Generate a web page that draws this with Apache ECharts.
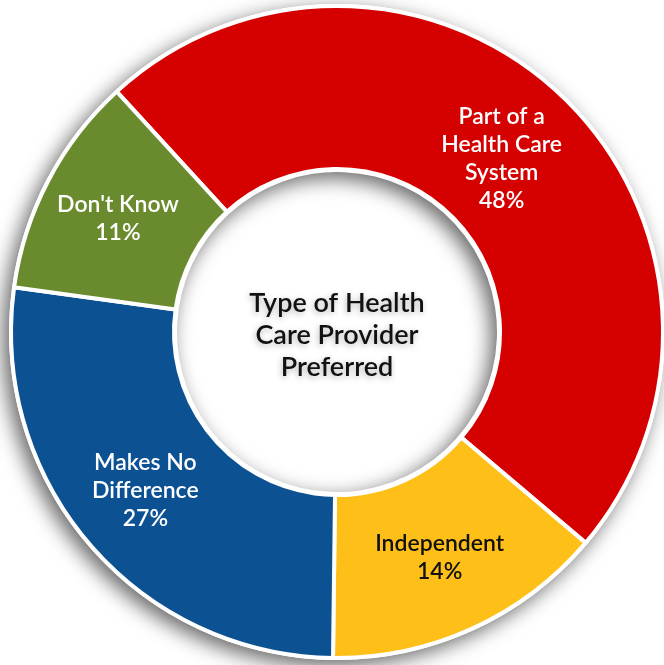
<!DOCTYPE html>
<html>
<head>
<meta charset="utf-8">
<script src="https://cdn.jsdelivr.net/npm/echarts@6/dist/echarts.min.js"></script>
<style>
html,body{margin:0;padding:0;background:#fff;}
#chart{width:664px;height:665px;}
</style>
</head>
<body>
<div id="chart"></div>
<script>
const categories = ["Part of a\nHealth Care\nSystem", "Independent", "Makes No\nDifference", "Don't Know"];
const values = [48, 14, 27, 11];
const colors = ["#d50000", "#fec018", "#0c5192", "#6a8b2d"];
const labelColors = ["#ffffff", "#111111", "#ffffff", "#ffffff"];
const centerTitle = "Type of Health\nCare Provider\nPreferred";

const chart = echarts.init(document.getElementById('chart'));
const center = [337, 332];
const fontFamily = "Lato, 'Noto Sans', sans-serif";
const labelOffsets = [[-7, 5], [0, 0], [-4, -3], [0, 2]];

chart.setOption({
  animation: false,
  backgroundColor: '#ffffff',
  graphic: [{
    type: 'text',
    x: center[0],
    y: center[1] + 3,
    z: 100,
    style: {
      text: centerTitle,
      fill: '#111111',
      font: '600 27px ' + fontFamily,
      lineHeight: 32,
      align: 'center',
      verticalAlign: 'middle',
      textShadowColor: 'rgba(0,0,0,0.3)',
      textShadowBlur: 6,
      textShadowOffsetX: -1,
      textShadowOffsetY: 2
    }
  }],
  series: [
    {
      type: 'pie',
      silent: true,
      z: 1,
      center: center,
      radius: [160, 328],
      startAngle: 132.5,
      label: { show: false },
      labelLine: { show: false },
      itemStyle: {
        color: '#ffffff',
        shadowColor: 'rgba(0,0,0,0.6)',
        shadowBlur: 20,
        shadowOffsetX: -6,
        shadowOffsetY: 6
      },
      data: [{ value: 1, name: 'ring' }]
    },
    {
      type: 'pie',
      z: 2,
      center: center,
      radius: [163, 326],
      startAngle: 132.5,
      clockwise: true,
      itemStyle: {
        borderColor: '#ffffff',
        borderWidth: 4
      },
      label: {
        show: true,
        position: 'inside',
        fontFamily: fontFamily,
        fontSize: 23,
        fontWeight: 600,
        lineHeight: 28,
        align: 'center',
        formatter: function (p) { return p.name + '\n' + p.value + '%'; }
      },
      labelLine: { show: false },
      data: categories.map(function (c, i) {
        return {
          name: c,
          value: values[i],
          itemStyle: { color: colors[i] },
          label: { color: labelColors[i], offset: labelOffsets[i] }
        };
      })
    }
  ]
});
</script>
</body>
</html>
